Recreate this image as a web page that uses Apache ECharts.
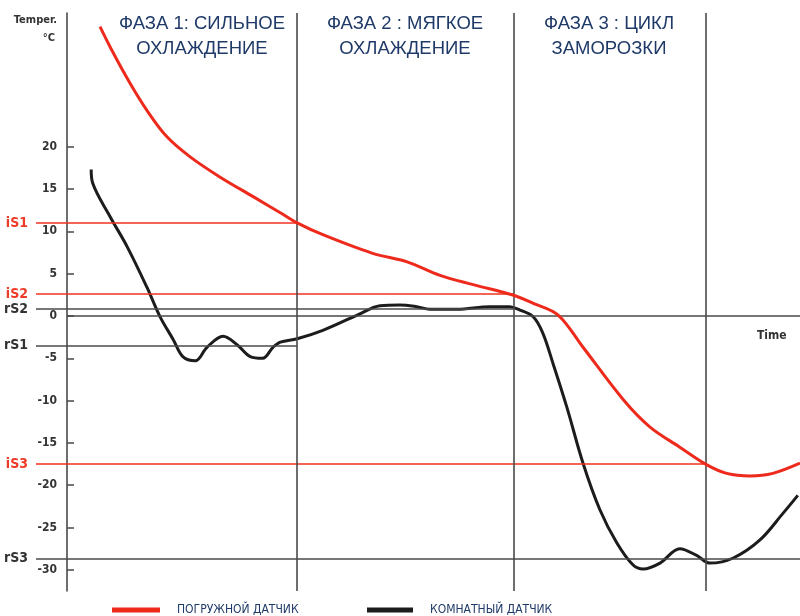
<!DOCTYPE html>
<html><head><meta charset="utf-8">
<script src="https://cdn.jsdelivr.net/npm/echarts@6/dist/echarts.min.js"></script>
<style>html,body{margin:0;padding:0;background:#fff}#c{width:800px;height:616px}</style>
</head><body><div id="c"></div>
<script>
// Time in arbitrary units (0..100), temperature in °C
var tickValues = [20, 15, 10, 5, 0, -5, -10, -15, -20, -25, -30];
var immersionName = 'ПОГРУЖНОЙ ДАТЧИК';
var roomName = 'КОМНАТНЫЙ ДАТЧИК';
var immersionTime = [4.5, 6.3, 8.6, 10.9, 13.6, 16.8, 20.9, 25.4, 29.1, 31.4, 34.9, 41.7, 46.4, 50.9, 55.4, 60.7, 63.6, 67.0, 70.4, 75.9, 79.5, 83.6, 87.3, 90.0, 93.2, 96.3, 100];
var immersionTemp = [34.2, 31.1, 27.5, 24.3, 21.2, 18.8, 16.4, 14.1, 12.2, 11.0, 9.6, 7.4, 6.4, 4.8, 3.7, 2.5, 1.5, 0.1, -3.7, -9.9, -13.1, -15.5, -17.6, -18.6, -18.9, -18.6, -17.4];
var roomTime = [3.3, 3.5, 5.9, 8.2, 10.9, 12.7, 14.5, 15.8, 17.5, 19.1, 21.3, 23.2, 25.0, 26.7, 28.1, 29.1, 31.4, 34.9, 39.6, 42.7, 45.4, 47.7, 49.5, 53.2, 57.7, 60.4, 61.8, 63.6, 64.9, 66.3, 68.2, 70.4, 72.7, 75.0, 77.2, 78.6, 80.9, 83.6, 85.9, 87.7, 90.9, 94.5, 97.7, 99.7];
var roomTemp = [17.3, 15.7, 11.7, 8.2, 3.4, -0.1, -2.8, -4.8, -5.3, -3.7, -2.4, -3.4, -4.8, -5.0, -3.7, -3.1, -2.7, -1.7, 0.1, 1.2, 1.3, 1.1, 0.8, 0.8, 1.1, 1.1, 0.7, -0.1, -2.0, -5.6, -10.8, -17.4, -22.9, -26.8, -29.4, -29.9, -29.2, -27.5, -28.3, -29.2, -28.6, -26.5, -23.3, -21.2];
var phaseTimes = [31.4, 61.0, 87.2];
var phaseLine1 = ['ФАЗА 1: СИЛЬНОЕ', 'ФАЗА 2 : МЯГКОЕ', 'ФАЗА 3 : ЦИКЛ'];
var phaseLine2 = ['ОХЛАЖДЕНИЕ', 'ОХЛАЖДЕНИЕ', 'ЗАМОРОЗКИ'];
var thresholdNames = ['iS1', 'iS2', 'rS2', 'rS1', 'iS3', 'rS3'];
var thresholdValues = [11.0, 2.6, 0.8, -3.5, -17.5, -28.7];
var thresholdEnds = [31.4, 61.0, 61.0, 31.4, 87.2, 100];
var thresholdKinds = ['i', 'i', 'r', 'r', 'i', 'r'];

var XMIN = -4.23, XMAX = 100;
var RED = '#ee2a1c', DARK = '#1c1c1c', GREY = '#4a4a4a', NAVY = '#1f3a68';
var NARROW = '"DejaVu Sans Condensed", Arial, sans-serif';

function zip(a, b) { return a.map(function (v, i) { return [v, b[i]]; }); }

var thrLines = thresholdNames.map(function (n, i) {
  var isI = thresholdKinds[i] === 'i';
  var col = isI ? '#f2321f' : GREY;
  return [
    { coord: [XMIN, thresholdValues[i]], name: n,
      lineStyle: { color: col, width: 1.6, type: 'solid' },
      label: { show: true, position: 'start', formatter: n, distance: 8,
        color: isI ? '#f03a28' : '#333', fontWeight: 'bold', fontSize: 14, fontFamily: NARROW } },
    { coord: [thresholdEnds[i], thresholdValues[i]] }
  ];
});
thrLines.push([
  { coord: [0, 0], lineStyle: { color: GREY, width: 1.6, type: 'solid' }, label: { show: false } },
  { coord: [XMAX, 0] }
]);
var phaseMarks = phaseTimes.map(function (t) {
  return { xAxis: t, lineStyle: { color: GREY, width: 1.6, type: 'solid' }, label: { show: false } };
});

var graphics = [
  { type: 'text', right: 800 - 57, top: 15, style: { text: 'Temper.', fill: '#333', font: 'bold 11px ' + NARROW, textAlign: 'right' } },
  { type: 'text', right: 800 - 55, top: 33, style: { text: '°C', fill: '#333', font: 'bold 11px ' + NARROW, textAlign: 'right' } },
  { type: 'text', left: 757, top: 330, style: { text: 'Time', fill: '#333', font: 'bold 12px ' + NARROW } }
];
var phaseCenters = [202, 405, 609];
phaseCenters.forEach(function (cx, i) {
  graphics.push({ type: 'text', x: cx, y: 12, style: { text: phaseLine1[i] + '\n' + phaseLine2[i], fill: NAVY,
    font: '18.5px Arial, "Liberation Sans", sans-serif', align: 'center', textAlign: 'center', lineHeight: 24.5 } });
});

var chart = echarts.init(document.getElementById('c'), null, { renderer: 'canvas' });
chart.setOption({
  animation: false,
  backgroundColor: '#fff',
  grid: { left: 36, right: 0, top: 13, bottom: 25, containLabel: false },
  xAxis: { type: 'value', min: XMIN, max: XMAX, axisLine: { show: false }, axisTick: { show: false },
    axisLabel: { show: false }, splitLine: { show: false } },
  yAxis: { type: 'value', min: -32.5, max: 35.8,
    axisLine: { show: true, onZero: true, lineStyle: { color: GREY, width: 1.6 } },
    axisTick: { show: true, inside: true, length: 7, customValues: tickValues, lineStyle: { color: GREY, width: 1.5 } },
    axisLabel: { show: true, customValues: tickValues, margin: -21, color: '#333', fontWeight: 'bold', fontSize: 12, fontFamily: NARROW },
    splitLine: { show: false } },
  legend: [
    { left: 107, top: 599, data: [immersionName], icon: 'rect', itemWidth: 48, itemHeight: 5, selectedMode: false,
      textStyle: { color: NAVY, fontSize: 12, fontFamily: NARROW, padding: [0, 0, 0, 12] } },
    { left: 362, top: 599, data: [roomName], icon: 'rect', itemWidth: 46, itemHeight: 5, selectedMode: false,
      textStyle: { color: NAVY, fontSize: 12, fontFamily: NARROW, padding: [0, 0, 0, 12] } }
  ],
  graphic: graphics,
  series: [
    { name: 'thresholds', type: 'line', data: [], silent: true,
      markLine: { symbol: 'none', silent: true, animation: false, data: thrLines.concat(phaseMarks) } },
    { name: roomName, type: 'line', data: zip(roomTime, roomTemp), smooth: 0.35, showSymbol: false, symbol: 'none',
      color: DARK, lineStyle: { color: DARK, width: 3 }, z: 4 },
    { name: immersionName, type: 'line', data: zip(immersionTime, immersionTemp), smooth: 0.35, showSymbol: false, symbol: 'none',
      color: RED, lineStyle: { color: RED, width: 3 }, z: 5 }
  ]
});
</script></body></html>
